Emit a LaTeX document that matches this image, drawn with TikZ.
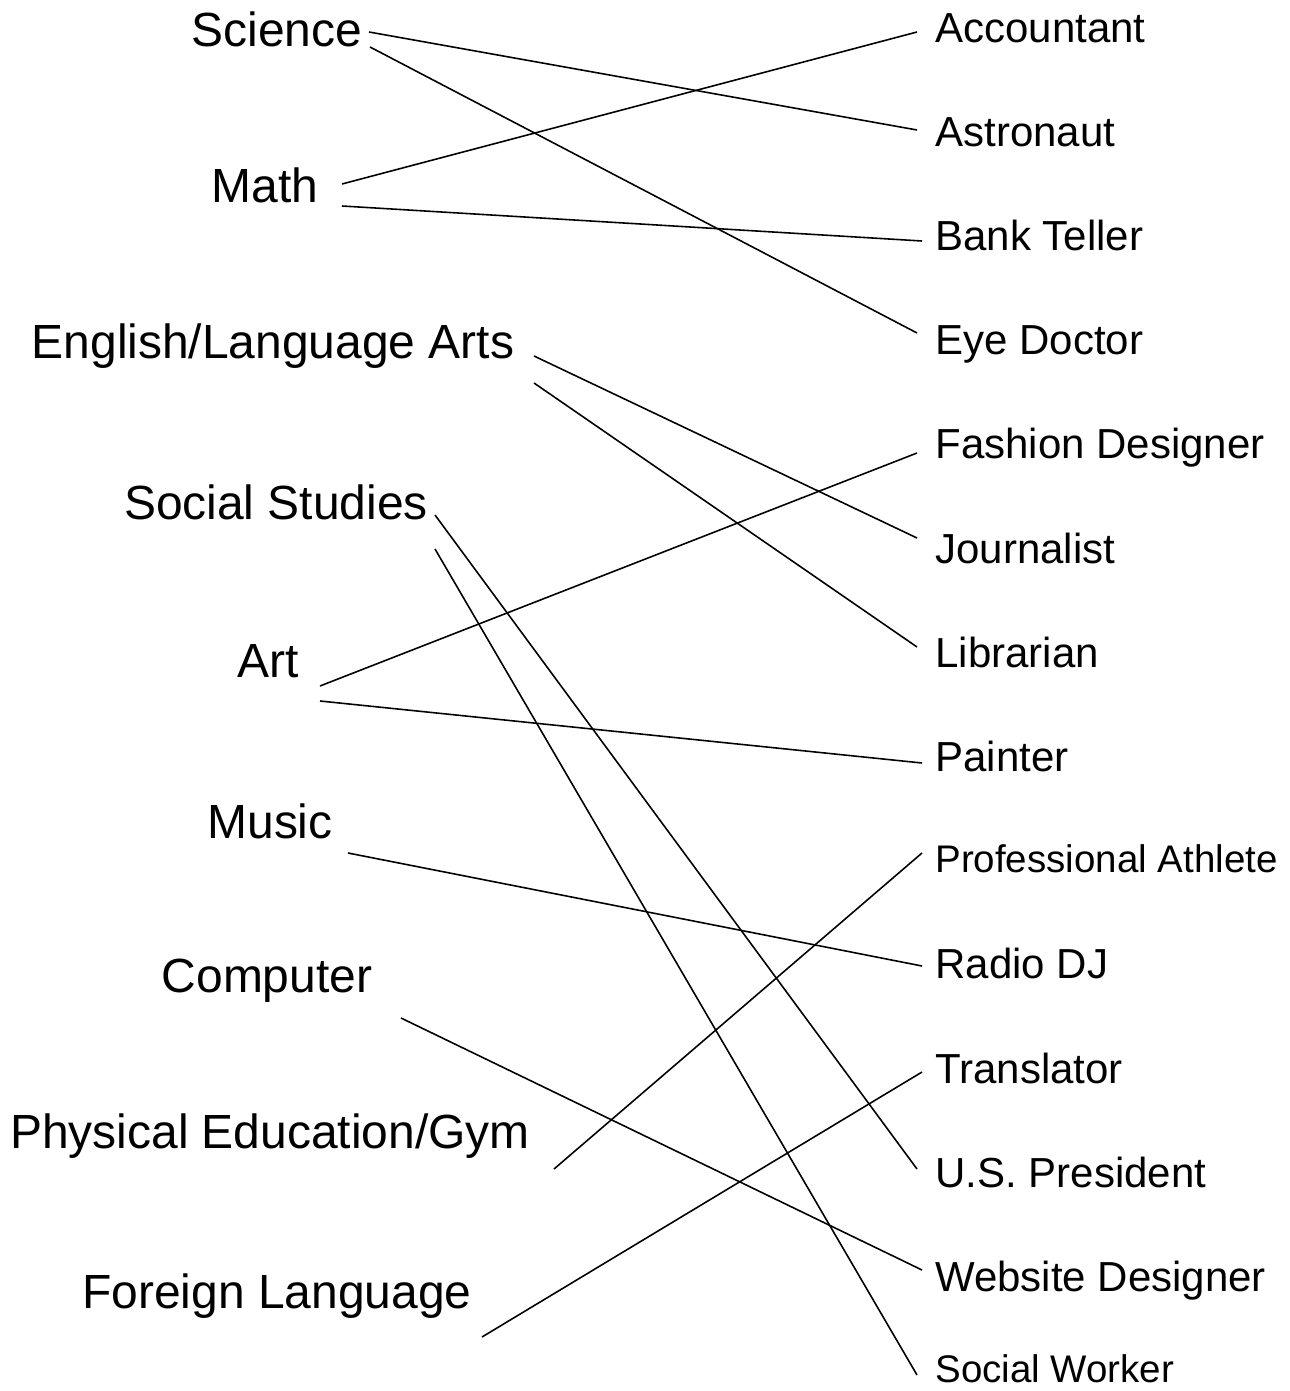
\documentclass[tikz,border=0pt]{standalone}
\usepackage{fontspec}
\setmainfont{Liberation Sans}

\begin{document}
\begin{tikzpicture}[
        x=0.02cm, y=-0.02cm,
        subject/.style={inner sep=0pt, anchor=base, font=\fontsize{27.3}{32}\selectfont},
        career/.style={inner sep=0pt, anchor=base west, font=\fontsize{23.9}{28}\selectfont},
        smallcareer/.style={career, font=\fontsize{21.9}{26}\selectfont},
        link/.style={line width=0.9pt}
    ]
        \useasboundingbox (0,0) rectangle (1289,1391);

        % school subjects
        \node[subject] (science) at (277,47) {Science};
        \node[subject] (math) at (265,203) {Math};
        \node[subject] (english) at (273,359) {English/Language Arts};
        \node[subject] (social) at (276,519) {Social Studies};
        \node[subject] (art) at (268,677) {Art};
        \node[subject] (music) at (270,838) {Music};
        \node[subject] (computer) at (267,992) {Computer};
        \node[subject] (gym) at (270,1148) {Physical Education/Gym};
        \node[subject] (language) at (277,1308) {Foreign Language};

        % careers
        \node[career] (accountant) at (935,43) {Accountant};
        \node[career] (astronaut) at (935,147) {Astronaut};
        \node[career] (teller) at (935,251) {Bank Teller};
        \node[career] (eyedoc) at (935,355) {Eye Doctor};
        \node[career] (fashion) at (935,459) {Fashion Designer};
        \node[career] (journalist) at (935,563) {Journalist};
        \node[career] (librarian) at (935,667) {Librarian};
        \node[career] (painter) at (935,771) {Painter};
        \node[smallcareer] (athlete) at (935,872) {Professional Athlete};
        \node[career] (radiodj) at (935,978) {Radio DJ};
        \node[career] (translator) at (935,1083) {Translator};
        \node[career] (president) at (935,1187) {U.S. President};
        \node[career] (webdesign) at (935,1291) {Website Designer};
        \node[smallcareer] (socialwork) at (935,1382) {Social Worker};

        % line starts beside the subjects
        \coordinate (sci-a) at (369,32);
        \coordinate (sci-b) at (370,47);
        \coordinate (math-a) at (342,184);
        \coordinate (math-b) at (342,206);
        \coordinate (eng-a) at (534,356);
        \coordinate (eng-b) at (534,383);
        \coordinate (soc-a) at (435,515);
        \coordinate (soc-b) at (435,549);
        \coordinate (art-a) at (320,686);
        \coordinate (art-b) at (320,701);
        \coordinate (mus-a) at (348,853);
        \coordinate (comp-a) at (401,1018);
        \coordinate (gym-a) at (554,1169);
        \coordinate (lang-a) at (482,1337);

        \draw[link] (sci-a) -- ([shift={(-18,-17)}]astronaut.base west);
        \draw[link] (sci-b) -- ([shift={(-18,-22)}]eyedoc.base west);
        \draw[link] (math-a) -- ([shift={(-18,-11)}]accountant.base west);
        \draw[link] (math-b) -- ([shift={(-13,-10)}]teller.base west);
        \draw[link] (eng-a) -- ([shift={(-18,-25)}]journalist.base west);
        \draw[link] (eng-b) -- ([shift={(-18,-20)}]librarian.base west);
        \draw[link] (soc-a) -- ([shift={(-18,-18)}]president.base west);
        \draw[link] (soc-b) -- ([shift={(-18,-7)}]socialwork.base west);
        \draw[link] (art-a) -- ([shift={(-18,-6)}]fashion.base west);
        \draw[link] (art-b) -- ([shift={(-13,-8)}]painter.base west);
        \draw[link] (mus-a) -- ([shift={(-13,-12)}]radiodj.base west);
        \draw[link] (comp-a) -- ([shift={(-13,-21)}]webdesign.base west);
        \draw[link] (gym-a) -- ([shift={(-13,-19)}]athlete.base west);
        \draw[link] (lang-a) -- ([shift={(-13,-11)}]translator.base west);
    \end{tikzpicture}
\end{document}
